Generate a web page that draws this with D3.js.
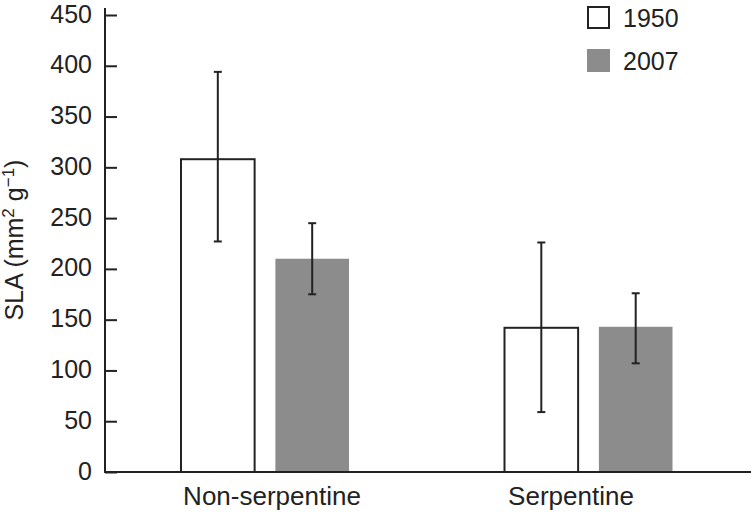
<!DOCTYPE html>
<html><head><meta charset="utf-8">
<script src="https://cdn.jsdelivr.net/npm/d3@7/dist/d3.min.js"></script>
<style>body{margin:0;background:#fff}text{font-family:"Liberation Sans",Arial,sans-serif;fill:#222}</style>
</head><body>
<script>
const categories = ["Non-serpentine", "Serpentine"];
const years = ["1950", "2007"];
const means = { "1950": [308, 142], "2007": [210, 143] };
const errLow = { "1950": [227, 59], "2007": [175, 107] };
const errHigh = { "1950": [394, 226], "2007": [245, 176] };
const yTicks = [0, 50, 100, 150, 200, 250, 300, 350, 400, 450];

const W = 751, H = 512;
const svg = d3.select("body").append("svg").attr("width", W).attr("height", H);
const ink = "#222", gray = "#8c8c8c";

const y = d3.scaleLinear().domain([0, 450]).range([472, 15]);
const xg = d3.scalePoint().domain(categories).range([265, 588.5]);
const xs = d3.scaleBand().domain(years).range([-84, 84]).paddingInner(0.22);
const xl = d3.scalePoint().domain(categories).range([272, 571]);

// y axis
const yAxis = svg.append("g").attr("transform", "translate(105,0)")
  .call(d3.axisRight(y).tickValues(yTicks).tickSize(12).tickFormat(d3.format("d")));
yAxis.select(".domain").remove();
yAxis.selectAll(".tick line").attr("stroke", ink).attr("stroke-width", 2);
yAxis.selectAll(".tick text").attr("x", -13).attr("dy", "0.28em").attr("text-anchor", "end")
  .style("font-size", "25px").style("font-family", "Liberation Sans, Arial, sans-serif").attr("fill", ink);
svg.append("line").attr("x1", 105).attr("x2", 105).attr("y1", 8).attr("y2", 473)
  .attr("stroke", ink).attr("stroke-width", 2);
// x axis line
svg.append("line").attr("x1", 104).attr("x2", W).attr("y1", 472).attr("y2", 472)
  .attr("stroke", ink).attr("stroke-width", 2);

// bars
years.forEach(yr => {
  const g = svg.append("g");
  categories.forEach((c, i) => {
    const x0 = xg(c) + xs(yr);
    const bw = xs.bandwidth();
    if (yr === "1950") {
      g.append("rect").attr("x", x0).attr("y", y(means[yr][i])).attr("width", bw)
        .attr("height", y(0) - y(means[yr][i])).attr("fill", "#fff").attr("stroke", ink).attr("stroke-width", 2);
    } else {
      g.append("rect").attr("x", x0).attr("y", y(means[yr][i])).attr("width", bw)
        .attr("height", y(0) - y(means[yr][i]) - 1).attr("fill", gray);
    }
    const cx = x0 + bw / 2;
    g.append("line").attr("x1", cx).attr("x2", cx).attr("y1", y(errLow[yr][i])).attr("y2", y(errHigh[yr][i]))
      .attr("stroke", ink).attr("stroke-width", 2);
    [errLow[yr][i], errHigh[yr][i]].forEach(v => {
      g.append("line").attr("x1", cx - 4).attr("x2", cx + 4).attr("y1", y(v)).attr("y2", y(v))
        .attr("stroke", ink).attr("stroke-width", 2);
    });
  });
});

// category labels
svg.append("g").selectAll("text").data(categories).join("text")
  .attr("x", d => xl(d)).attr("y", 505).attr("text-anchor", "middle")
  .style("font-size", "26px").text(d => d);

// y label
const yl = svg.append("text").attr("transform", "translate(23,240) rotate(-90)")
  .attr("text-anchor", "middle").style("font-size", "25px");
yl.append("tspan").text("SLA (mm");
yl.append("tspan").text("2").attr("dy", -9).style("font-size", "17px");
yl.append("tspan").text(" g").attr("dy", 9);
yl.append("tspan").text("\u22121").attr("dy", -9).style("font-size", "17px");
yl.append("tspan").text(")").attr("dy", 9);

// legend
const leg = svg.append("g");
years.forEach((yr, i) => {
  const ly = 6 + i * 43;
  if (yr === "1950") {
    leg.append("rect").attr("x", 588).attr("y", ly + 1).attr("width", 21).attr("height", 21)
      .attr("fill", "#fff").attr("stroke", ink).attr("stroke-width", 2);
  } else {
    leg.append("rect").attr("x", 587).attr("y", ly).attr("width", 23).attr("height", 23).attr("fill", gray);
  }
  leg.append("text").attr("x", 623).attr("y", ly + 21).style("font-size", "25px").text(yr);
});
</script>
</body></html>
